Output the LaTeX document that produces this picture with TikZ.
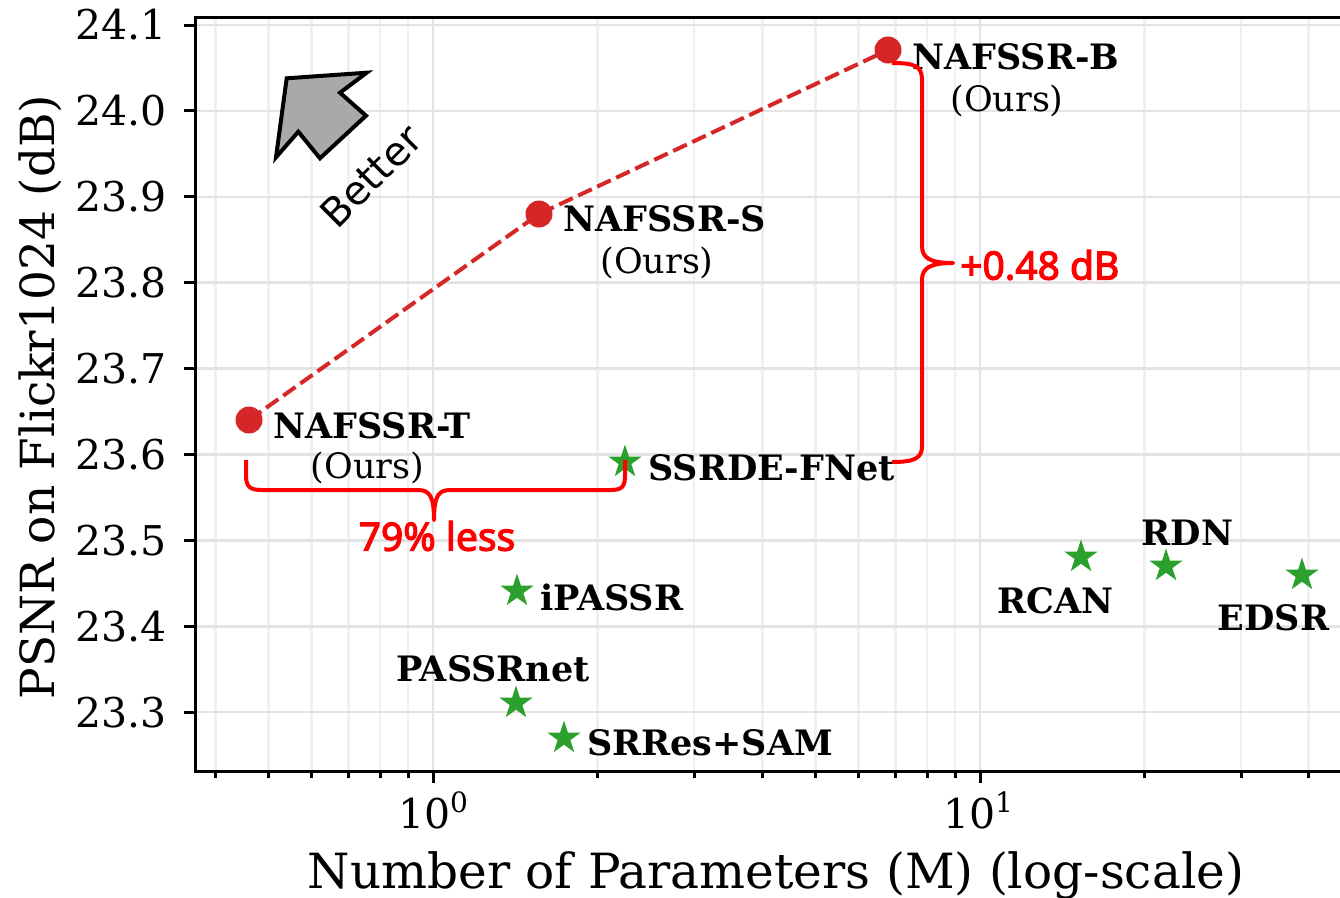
\documentclass[tikz,border=0pt]{standalone}
\usepackage{fontspec}
\setmainfont{DejaVu Serif}
\newfontfamily\notosansb[FakeBold=3]{Noto Sans}
\newfontfamily\djsans{DejaVu Sans}
\usetikzlibrary{shapes.geometric}
\definecolor{tabred}{HTML}{D62728}
\definecolor{tabgreen}{HTML}{2CA02C}
\definecolor{bracered}{HTML}{FF0000}
\definecolor{majgrid}{HTML}{E3E3E3}
\definecolor{mingrid}{HTML}{F0F0F0}
\definecolor{arrowgray}{HTML}{A9A9A9}
\tikzset{
  majorgrid/.style={draw=majgrid, line width=2.5},
  minorgrid/.style={draw=mingrid, line width=2.5},
  spine/.style={draw=black, line width=3},
  ticklab/.style={inner sep=0, font=\fontsize{41}{49}\selectfont},
  dotmark/.style={circle, minimum size=27, inner sep=0, fill=tabred},
  starmark/.style={star, star points=5, star point ratio=2.618, minimum size=35, inner sep=0, fill=tabgreen},
  boldlab/.style={inner sep=0, font=\fontsize{35}{42}\selectfont\bfseries},
  ourslab/.style={inner sep=0, font=\fontsize{35}{42}\selectfont},
  redlab/.style={inner sep=0, text=bracered, font=\fontsize{39}{46}\selectfont\notosansb},
  bracepath/.style={draw=bracered, line width=4, line join=round},
  trendline/.style={draw=tabred, line width=4, dash pattern=on 15pt off 6pt}
}
\begin{document}
\begin{tikzpicture}[x=1pt, y=-1pt]
\useasboundingbox (0,0) rectangle (1340,897);
\fill[white] (0,0) rectangle (1340,897);

% grid
\foreach \x in {215.3,268.3,311.6,348.3,380.0,408.0,597.7,694.0,762.3,815.3,858.6,895.3,927.0,955.0,1144.7,1241.0,1308.3}
  \draw[minorgrid] (\x,17) -- (\x,771);
\foreach \x in {433,980}
  \draw[majorgrid] (\x,17) -- (\x,771);
\foreach \y in {25,110.9,196.8,282.7,368.6,454.5,540.4,626.3,712.2}
  \draw[majorgrid] (195,\y) -- (1340,\y);

% spines and ticks
\draw[spine] (1340,17) -- (195,17) -- (195,771) -- (1340,771);
\foreach \y in {25,110.9,196.8,282.7,368.6,454.5,540.4,626.3,712.2}
  \draw[spine] (184,\y) -- (195,\y);
\foreach \x in {433,980}
  \draw[spine] (\x,771) -- (\x,783);
\foreach \x in {215.3,268.3,311.6,348.3,380.0,408.0,597.7,694.0,762.3,815.3,858.6,895.3,927.0,955.0,1144.7,1241.0,1308.3}
  \draw[spine] (\x,771) -- (\x,778);

% tick labels
\foreach \y/\t [count=\i] in {25/24.1,110.9/24.0,196.8/23.9,282.7/23.8,368.6/23.7,454.5/23.6,540.4/23.5,626.3/23.4,712.2/23.3}
  \node[ticklab, anchor=east] (yl\i) at (167,\y) {\t};
\node[ticklab, anchor=base] (xl0) at (433,828) {10\raisebox{16pt}{\fontsize{28}{30}\selectfont 0}};
\node[ticklab, anchor=base] (xl1) at (978,828) {10\raisebox{16pt}{\fontsize{28}{30}\selectfont 1}};

% axis labels
\node[inner sep=0, anchor=base, font=\fontsize{48.5}{58}\selectfont] (xlabel) at (776,888) {Number of Parameters (M) (log-scale)};
\node[inner sep=0, rotate=90, font=\fontsize{47}{56}\selectfont] (ylabel) at (40,397) {PSNR on Flickr1024 (dB)};

% trend line and markers
\coordinate (pT) at (249,420);
\coordinate (pS) at (539,214);
\coordinate (pB) at (888,50);
\draw[trendline] (pT) -- (pS) -- (pB);
\node[dotmark] (mT) at (pT) {};
\node[dotmark] (mS) at (pS) {};
\node[dotmark] (mB) at (pB) {};

\node[starmark] (sSSRDE) at (625,462) {};
\node[starmark] (siPASSR) at (517,591) {};
\node[starmark] (sPASSR) at (516,703) {};
\node[starmark] (sSRRes) at (564,738) {};
\node[starmark] (sRCAN) at (1081,557) {};
\node[starmark] (sRDN) at (1166,566) {};
\node[starmark] (sEDSR) at (1302,575) {};

% labels
\node[boldlab, anchor=west] (lB) at (912,56.5) {NAFSSR-B};
\node[ourslab] (oB) at (1007,101) {(Ours)};
\node[boldlab, anchor=west] (lS) at (563,219) {NAFSSR-S};
\node[ourslab] (oS) at (657,263) {(Ours)};
\node[boldlab, anchor=west] (lT) at (273,426) {NAFSSR-T};
\node[ourslab] (oT) at (367.5,468) {(Ours)};
\node[boldlab, anchor=west] (lSSRDE) at (648,468) {SSRDE-FNet};
\node[boldlab, anchor=west] (liPASSR) at (540,597) {iPASSR};
\node[boldlab] (lPASSR) at (493,669) {PASSRnet};
\node[boldlab, anchor=west] (lSRRes) at (587,743) {SRRes+SAM};
\node[boldlab] (lRCAN) at (1055.5,601) {RCAN};
\node[boldlab] (lRDN) at (1187.5,533) {RDN};
\node[boldlab] (lEDSR) at (1273.5,618) {EDSR};

% braces
\draw[bracepath] (892,63) .. controls (915,63) and (922,66) .. (922,80) -- (922,246)
  .. controls (922,258) and (930,263) .. (953,263)
  .. controls (930,263) and (922,268) .. (922,280) -- (922,446)
  .. controls (922,458) and (915,462) .. (892,462);
\draw[bracepath] (246,460) -- (246,475) .. controls (246,487) and (250,490) .. (262,490) -- (418,490)
  .. controls (430,490) and (434,497) .. (434,520)
  .. controls (434,497) and (438,490) .. (450,490) -- (610,490)
  .. controls (622,490) and (625,487) .. (625,475) -- (625,460);
\node[redlab, anchor=west] (gain) at (960,265) {+0.48 dB};
\node[redlab] (less) at (437,536) {79\% less};

% better arrow
\draw[line width=4, fill=arrowgray, line join=miter]
  (286.7,78.3) -- (366.7,72.7) -- (340,92.7) -- (366,115.7) -- (320,158.3) -- (298.3,131.7) -- (276,157.3) -- cycle;
\node[inner sep=0, rotate=45, font=\fontsize{40}{48}\selectfont\djsans] (better) at (371,176) {Better};
\end{tikzpicture}
\end{document}
